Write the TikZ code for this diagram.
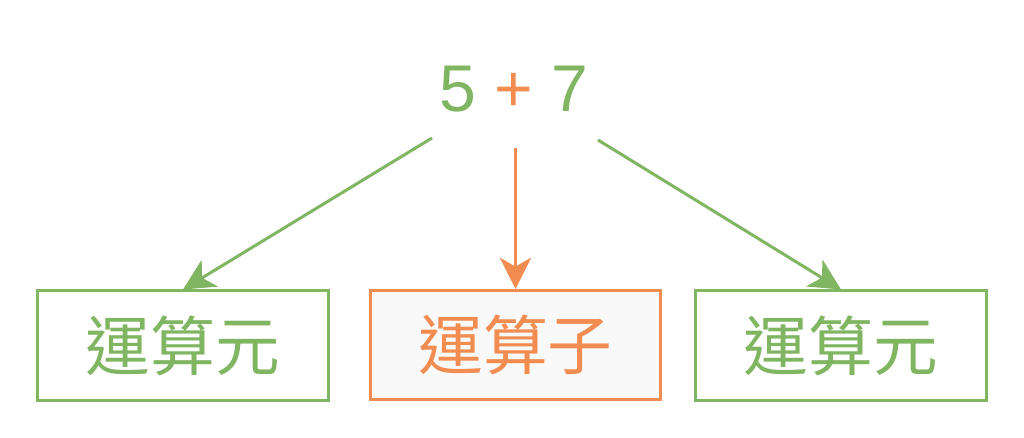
\documentclass[tikz,border=0pt]{standalone}
\usepackage{fontspec}
\setmainfont{Liberation Sans}
\newfontfamily\cjk{Noto Sans CJK TC}
\usetikzlibrary{arrows.meta}
\definecolor{grn}{RGB}{128,181,98}
\definecolor{org}{RGB}{242,140,80}
\definecolor{boxfill}{RGB}{249,249,249}
\tikzset{
  termbox/.style={draw, line width=0.075cm, minimum width=7.25cm, minimum height=2.725cm, inner sep=0pt, font=\cjk\fontsize{46}{50}\selectfont},
  conn/.style={line width=0.075cm, -{Stealth[length=0.78cm, width=0.78cm, inset=0.22cm]}}
}
\begin{document}
\begin{tikzpicture}[x=0.025cm, y=-0.025cm]
\useasboundingbox (0,0) rectangle (1024,438);
\node[anchor=base, text=grn, font=\fontsize{47}{52}\selectfont, inner sep=0pt] (expr) at (514,112) {5 \textcolor{org}{+} 7};
\node[termbox, draw=grn, text=grn] (b1) at (183,345.5) {運算元};
\node[termbox, draw=org, text=org, fill=boxfill] (b2) at (515.5,345) {運算子};
\node[termbox, draw=grn, text=grn] (b3) at (841,345.5) {運算元};
\coordinate (s1) at (432,138);
\coordinate (s2) at (515.5,148);
\coordinate (s3) at (598,140);
\draw[conn, grn] (s1) -- (b1.north);
\draw[conn, org] (s2) -- (b2.north);
\draw[conn, grn] (s3) -- (b3.north);
\end{tikzpicture}
\end{document}
